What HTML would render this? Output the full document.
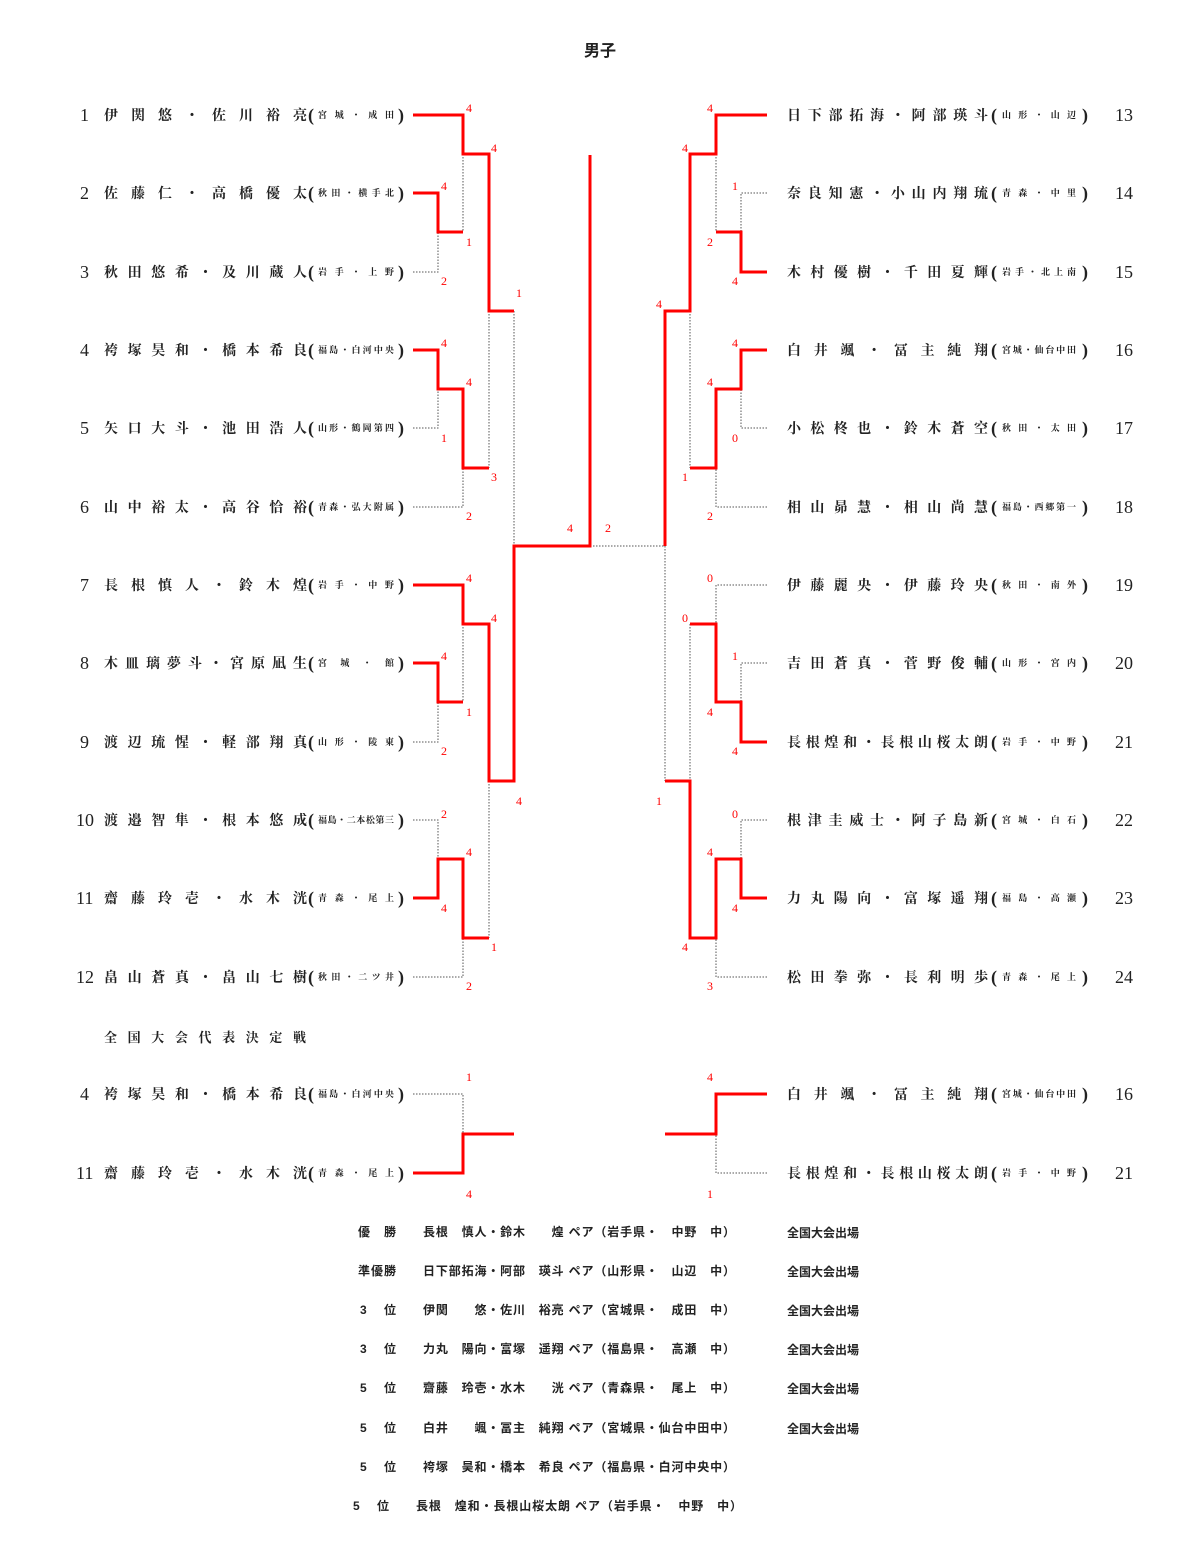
<!DOCTYPE html>
<html><head><meta charset="utf-8"><style>
html,body{margin:0;padding:0;background:#fff;}
svg{display:block;}
.n{font-family:"Liberation Serif","Noto Serif CJK SC","Noto Sans CJK JP",serif;font-weight:bold;font-size:14px;fill:#222;}
.num{font-family:"Liberation Serif",serif;font-size:18px;fill:#222;}
.p{font-family:"Liberation Serif",serif;font-size:18px;fill:#222;font-weight:bold;}
.s{font-family:"Liberation Serif","Noto Serif CJK SC","Noto Sans CJK JP",serif;font-weight:bold;font-size:9px;fill:#222;}
.sc{font-family:"Liberation Serif",serif;font-size:12px;fill:#f00;text-anchor:middle;}
.r{fill:none;stroke:#f00;stroke-width:3;}
.d{fill:none;stroke:#555;stroke-width:1;stroke-dasharray:1.5 1.5;}
.res{font-family:"Liberation Sans","Noto Sans CJK JP",sans-serif;font-weight:bold;font-size:12px;fill:#222;}
</style></head><body>
<svg width="1200" height="1541" viewBox="0 0 1200 1541" xmlns="http://www.w3.org/2000/svg">
<text x="600" y="56" text-anchor="middle" style="font-family:'Liberation Sans','Noto Sans CJK JP',sans-serif;font-weight:bold;font-size:16px;fill:#222">男子</text>

<!-- left names -->
<g>
<text class="num" x="80" y="121">1</text><text class="n" x="104" y="120" textLength="203" lengthAdjust="spacing">伊関悠・佐川裕亮</text><text class="p" x="308" y="121">(</text><text class="s" x="318" y="118" textLength="76" lengthAdjust="spacing">宮城・成田</text><text class="p" x="398" y="121">)</text>
<text class="num" x="80" y="199">2</text><text class="n" x="104" y="198" textLength="203" lengthAdjust="spacing">佐藤仁・高橋優太</text><text class="p" x="308" y="199">(</text><text class="s" x="318" y="196" textLength="76" lengthAdjust="spacing">秋田・横手北</text><text class="p" x="398" y="199">)</text>
<text class="num" x="80" y="278">3</text><text class="n" x="104" y="277" textLength="203" lengthAdjust="spacing">秋田悠希・及川蔵人</text><text class="p" x="308" y="278">(</text><text class="s" x="318" y="275" textLength="76" lengthAdjust="spacing">岩手・上野</text><text class="p" x="398" y="278">)</text>
<text class="num" x="80" y="356">4</text><text class="n" x="104" y="355" textLength="203" lengthAdjust="spacing">袴塚昊和・橋本希良</text><text class="p" x="308" y="356">(</text><text class="s" x="318" y="353" textLength="76" lengthAdjust="spacing">福島・白河中央</text><text class="p" x="398" y="356">)</text>
<text class="num" x="80" y="434">5</text><text class="n" x="104" y="433" textLength="203" lengthAdjust="spacing">矢口大斗・池田浩人</text><text class="p" x="308" y="434">(</text><text class="s" x="318" y="431" textLength="76" lengthAdjust="spacing">山形・鶴岡第四</text><text class="p" x="398" y="434">)</text>
<text class="num" x="80" y="513">6</text><text class="n" x="104" y="512" textLength="203" lengthAdjust="spacing">山中裕太・高谷恰裕</text><text class="p" x="308" y="513">(</text><text class="s" x="318" y="510" textLength="76" lengthAdjust="spacing">青森・弘大附属</text><text class="p" x="398" y="513">)</text>
<text class="num" x="80" y="591">7</text><text class="n" x="104" y="590" textLength="203" lengthAdjust="spacing">長根慎人・鈴木煌</text><text class="p" x="308" y="591">(</text><text class="s" x="318" y="588" textLength="76" lengthAdjust="spacing">岩手・中野</text><text class="p" x="398" y="591">)</text>
<text class="num" x="80" y="669">8</text><text class="n" x="104" y="668" textLength="203" lengthAdjust="spacing">木皿璃夢斗・宮原凪生</text><text class="p" x="308" y="669">(</text><text class="s" x="318" y="666" textLength="76" lengthAdjust="spacing">宮　城　・　館</text><text class="p" x="398" y="669">)</text>
<text class="num" x="80" y="748">9</text><text class="n" x="104" y="747" textLength="203" lengthAdjust="spacing">渡辺琉惺・軽部翔真</text><text class="p" x="308" y="748">(</text><text class="s" x="318" y="745" textLength="76" lengthAdjust="spacing">山形・陵東</text><text class="p" x="398" y="748">)</text>
<text class="num" x="76" y="826">10</text><text class="n" x="104" y="825" textLength="203" lengthAdjust="spacing">渡邉智隼・根本悠成</text><text class="p" x="308" y="826">(</text><text class="s" x="318" y="823" textLength="76" lengthAdjust="spacing">福島・二本松第三</text><text class="p" x="398" y="826">)</text>
<text class="num" x="76" y="904">11</text><text class="n" x="104" y="903" textLength="203" lengthAdjust="spacing">齋藤玲壱・水木洸</text><text class="p" x="308" y="904">(</text><text class="s" x="318" y="901" textLength="76" lengthAdjust="spacing">青森・尾上</text><text class="p" x="398" y="904">)</text>
<text class="num" x="76" y="983">12</text><text class="n" x="104" y="982" textLength="203" lengthAdjust="spacing">畠山蒼真・畠山七樹</text><text class="p" x="308" y="983">(</text><text class="s" x="318" y="980" textLength="76" lengthAdjust="spacing">秋田・二ツ井</text><text class="p" x="398" y="983">)</text>
</g>

<!-- right names -->
<g>
<text class="n" x="787" y="120" textLength="201" lengthAdjust="spacing">日下部拓海・阿部瑛斗</text><text class="p" x="991" y="121">(</text><text class="s" x="1002" y="118" textLength="74" lengthAdjust="spacing">山形・山辺</text><text class="p" x="1082" y="121">)</text><text class="num" x="1115" y="121">13</text>
<text class="n" x="787" y="198" textLength="201" lengthAdjust="spacing">奈良知憲・小山内翔琉</text><text class="p" x="991" y="199">(</text><text class="s" x="1002" y="196" textLength="74" lengthAdjust="spacing">青森・中里</text><text class="p" x="1082" y="199">)</text><text class="num" x="1115" y="199">14</text>
<text class="n" x="787" y="277" textLength="201" lengthAdjust="spacing">木村優樹・千田夏輝</text><text class="p" x="991" y="278">(</text><text class="s" x="1002" y="275" textLength="74" lengthAdjust="spacing">岩手・北上南</text><text class="p" x="1082" y="278">)</text><text class="num" x="1115" y="278">15</text>
<text class="n" x="787" y="355" textLength="201" lengthAdjust="spacing">白井颯・冨主純翔</text><text class="p" x="991" y="356">(</text><text class="s" x="1002" y="353" textLength="74" lengthAdjust="spacing">宮城・仙台中田</text><text class="p" x="1082" y="356">)</text><text class="num" x="1115" y="356">16</text>
<text class="n" x="787" y="433" textLength="201" lengthAdjust="spacing">小松柊也・鈴木蒼空</text><text class="p" x="991" y="434">(</text><text class="s" x="1002" y="431" textLength="74" lengthAdjust="spacing">秋田・太田</text><text class="p" x="1082" y="434">)</text><text class="num" x="1115" y="434">17</text>
<text class="n" x="787" y="512" textLength="201" lengthAdjust="spacing">相山昴慧・相山尚慧</text><text class="p" x="991" y="513">(</text><text class="s" x="1002" y="510" textLength="74" lengthAdjust="spacing">福島・西郷第一</text><text class="p" x="1082" y="513">)</text><text class="num" x="1115" y="513">18</text>
<text class="n" x="787" y="590" textLength="201" lengthAdjust="spacing">伊藤麗央・伊藤玲央</text><text class="p" x="991" y="591">(</text><text class="s" x="1002" y="588" textLength="74" lengthAdjust="spacing">秋田・南外</text><text class="p" x="1082" y="591">)</text><text class="num" x="1115" y="591">19</text>
<text class="n" x="787" y="668" textLength="201" lengthAdjust="spacing">吉田蒼真・菅野俊輔</text><text class="p" x="991" y="669">(</text><text class="s" x="1002" y="666" textLength="74" lengthAdjust="spacing">山形・宮内</text><text class="p" x="1082" y="669">)</text><text class="num" x="1115" y="669">20</text>
<text class="n" x="787" y="747" textLength="201" lengthAdjust="spacing">長根煌和・長根山桜太朗</text><text class="p" x="991" y="748">(</text><text class="s" x="1002" y="745" textLength="74" lengthAdjust="spacing">岩手・中野</text><text class="p" x="1082" y="748">)</text><text class="num" x="1115" y="748">21</text>
<text class="n" x="787" y="825" textLength="201" lengthAdjust="spacing">根津圭威士・阿子島新</text><text class="p" x="991" y="826">(</text><text class="s" x="1002" y="823" textLength="74" lengthAdjust="spacing">宮城・白石</text><text class="p" x="1082" y="826">)</text><text class="num" x="1115" y="826">22</text>
<text class="n" x="787" y="903" textLength="201" lengthAdjust="spacing">力丸陽向・富塚遥翔</text><text class="p" x="991" y="904">(</text><text class="s" x="1002" y="901" textLength="74" lengthAdjust="spacing">福島・高瀬</text><text class="p" x="1082" y="904">)</text><text class="num" x="1115" y="904">23</text>
<text class="n" x="787" y="982" textLength="201" lengthAdjust="spacing">松田拳弥・長利明歩</text><text class="p" x="991" y="983">(</text><text class="s" x="1002" y="980" textLength="74" lengthAdjust="spacing">青森・尾上</text><text class="p" x="1082" y="983">)</text><text class="num" x="1115" y="983">24</text>
</g>

<text class="n" x="104" y="1042" textLength="202" lengthAdjust="spacing" style="font-size:13px">全国大会代表決定戦</text>

<text class="num" x="80" y="1100">4</text><text class="n" x="104" y="1099" textLength="203" lengthAdjust="spacing">袴塚昊和・橋本希良</text><text class="p" x="308" y="1100">(</text><text class="s" x="318" y="1097" textLength="76" lengthAdjust="spacing">福島・白河中央</text><text class="p" x="398" y="1100">)</text>
<text class="num" x="76" y="1179">11</text><text class="n" x="104" y="1178" textLength="203" lengthAdjust="spacing">齋藤玲壱・水木洸</text><text class="p" x="308" y="1179">(</text><text class="s" x="318" y="1176" textLength="76" lengthAdjust="spacing">青森・尾上</text><text class="p" x="398" y="1179">)</text>
<text class="n" x="787" y="1099" textLength="201" lengthAdjust="spacing">白井颯・冨主純翔</text><text class="p" x="991" y="1100">(</text><text class="s" x="1002" y="1097" textLength="74" lengthAdjust="spacing">宮城・仙台中田</text><text class="p" x="1082" y="1100">)</text><text class="num" x="1115" y="1100">16</text>
<text class="n" x="787" y="1178" textLength="201" lengthAdjust="spacing">長根煌和・長根山桜太朗</text><text class="p" x="991" y="1179">(</text><text class="s" x="1002" y="1176" textLength="74" lengthAdjust="spacing">岩手・中野</text><text class="p" x="1082" y="1179">)</text><text class="num" x="1115" y="1179">21</text>

<!-- dotted lines -->
<g class="d">
<path d="M413 272 H438 V232"/><path d="M463 154 V232"/><path d="M413 428 H438 V389"/><path d="M413 507 H463 V468"/>
<path d="M489 311 V468"/><path d="M514 311 V546"/><path d="M413 742 H438 V702"/><path d="M463 624 V702"/>
<path d="M413 820 H438 V859"/><path d="M413 977 H463 V938"/><path d="M489 781 V938"/><path d="M590 546 H665"/>
<path d="M767 193 H741 V232"/><path d="M716 154 V232"/><path d="M767 428 H741 V389"/><path d="M767 507 H716 V468"/>
<path d="M690 311 V468"/><path d="M767 585 H716 V624"/><path d="M767 663 H741 V702"/><path d="M690 624 V781"/>
<path d="M767 820 H741 V859"/><path d="M767 977 H716 V938"/><path d="M665 546 V781"/>
<path d="M413 1094 H463 V1134"/><path d="M767 1173 H716 V1134"/>
</g>
<!-- red lines -->
<g class="r">
<path d="M413 115 H463 V154 H489 V311 H514"/>
<path d="M413 193 H438 V232 H463"/>
<path d="M413 350 H438 V389 H463 V468 H489"/>
<path d="M413 585 H463 V624 H489 V781 H514 V546 H590 V155"/>
<path d="M413 663 H438 V702 H463"/>
<path d="M413 898 H438 V859 H463 V938 H489"/>
<path d="M767 115 H716 V154 H690 V311 H665 V546"/>
<path d="M767 272 H741 V232 H716"/>
<path d="M767 350 H741 V389 H716 V468 H690"/>
<path d="M690 624 H716 V702 H741 V742 H767"/>
<path d="M767 898 H741 V859 H716 V938 H690 V781 H665"/>
<path d="M413 1173 H463 V1134 H514"/>
<path d="M767 1094 H716 V1134 H665"/>
</g>

<!-- scores -->
<g class="sc">
<text x="469" y="112">4</text><text x="494" y="152">4</text><text x="444" y="190">4</text><text x="469" y="246">1</text><text x="444" y="285">2</text><text x="519" y="297">1</text>
<text x="444" y="347">4</text><text x="469" y="386">4</text><text x="444" y="442">1</text><text x="494" y="481">3</text><text x="469" y="520">2</text>
<text x="570" y="532">4</text><text x="608" y="532">2</text>
<text x="469" y="582">4</text><text x="494" y="622">4</text><text x="444" y="660">4</text><text x="469" y="716">1</text><text x="444" y="755">2</text><text x="519" y="805">4</text>
<text x="444" y="818">2</text><text x="469" y="856">4</text><text x="444" y="912">4</text><text x="494" y="951">1</text><text x="469" y="990">2</text>
<text x="710" y="112">4</text><text x="685" y="152">4</text><text x="735" y="190">1</text><text x="710" y="246">2</text><text x="735" y="285">4</text><text x="659" y="308">4</text>
<text x="735" y="347">4</text><text x="710" y="386">4</text><text x="735" y="442">0</text><text x="685" y="481">1</text><text x="710" y="520">2</text>
<text x="710" y="582">0</text><text x="685" y="622">0</text><text x="735" y="660">1</text><text x="710" y="716">4</text><text x="735" y="755">4</text><text x="659" y="805">1</text>
<text x="735" y="818">0</text><text x="710" y="856">4</text><text x="735" y="912">4</text><text x="685" y="951">4</text><text x="710" y="990">3</text>
<text x="469" y="1081">1</text><text x="469" y="1198">4</text><text x="710" y="1081">4</text><text x="710" y="1198">1</text>
</g>

<!-- results -->
<g class="res">
<text x="358" y="1236" textLength="38" lengthAdjust="spacing">優　勝</text><text x="423" y="1236" textLength="312" lengthAdjust="spacing">長根　慎人・鈴木　　煌 ペア（岩手県・　中野　中）</text><text x="787" y="1237">全国大会出場</text>
<text x="358" y="1275" textLength="38" lengthAdjust="spacing">準優勝</text><text x="423" y="1275" textLength="312" lengthAdjust="spacing">日下部拓海・阿部　瑛斗 ペア（山形県・　山辺　中）</text><text x="787" y="1276">全国大会出場</text>
<text x="360" y="1314" textLength="36" lengthAdjust="spacing">3　位</text><text x="423" y="1314" textLength="312" lengthAdjust="spacing">伊関　　悠・佐川　裕亮 ペア（宮城県・　成田　中）</text><text x="787" y="1315">全国大会出場</text>
<text x="360" y="1353" textLength="36" lengthAdjust="spacing">3　位</text><text x="423" y="1353" textLength="312" lengthAdjust="spacing">力丸　陽向・富塚　遥翔 ペア（福島県・　高瀬　中）</text><text x="787" y="1354">全国大会出場</text>
<text x="360" y="1392" textLength="36" lengthAdjust="spacing">5　位</text><text x="423" y="1392" textLength="312" lengthAdjust="spacing">齋藤　玲壱・水木　　洸 ペア（青森県・　尾上　中）</text><text x="787" y="1393">全国大会出場</text>
<text x="360" y="1432" textLength="36" lengthAdjust="spacing">5　位</text><text x="423" y="1432" textLength="312" lengthAdjust="spacing">白井　　颯・冨主　純翔 ペア（宮城県・仙台中田中）</text><text x="787" y="1433">全国大会出場</text>
<text x="360" y="1471" textLength="36" lengthAdjust="spacing">5　位</text><text x="423" y="1471" textLength="312" lengthAdjust="spacing">袴塚　昊和・橋本　希良 ペア（福島県・白河中央中）</text>
<text x="353" y="1510" textLength="36" lengthAdjust="spacing">5　位</text><text x="416" y="1510" textLength="326" lengthAdjust="spacing">長根　煌和・長根山桜太朗 ペア（岩手県・　中野　中）</text>
</g>
</svg>
</body></html>
